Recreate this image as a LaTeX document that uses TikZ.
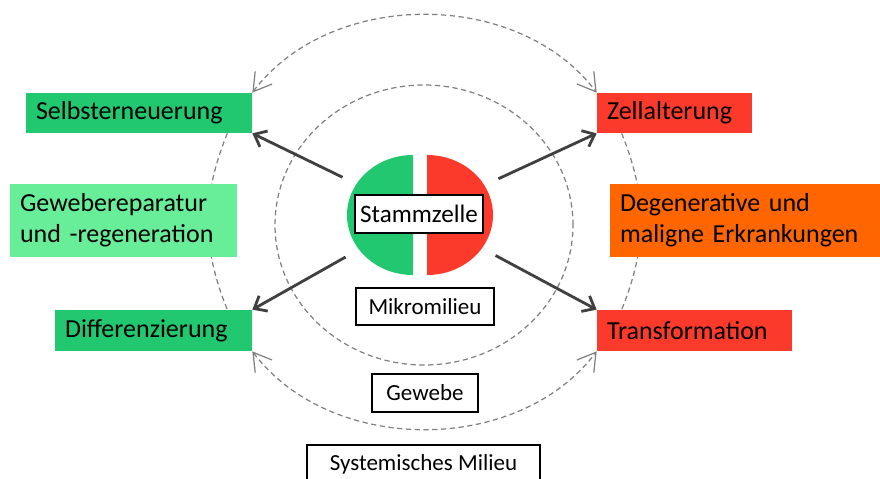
\documentclass[tikz,border=0pt]{standalone}
\usepackage{fontspec}
\setmainfont{Carlito}
\usetikzlibrary{arrows.meta, shapes.geometric, calc, backgrounds}

\definecolor{stemgreen}{RGB}{33,200,112}
\definecolor{lightgreen}{RGB}{104,238,152}
\definecolor{stemred}{RGB}{252,58,44}
\definecolor{diseaseorange}{RGB}{255,102,0}
\definecolor{arrowgray}{RGB}{64,64,64}
\definecolor{ringgray}{RGB}{128,128,128}

\begin{document}
\begin{tikzpicture}[x=0.02cm, y=0.02cm,
    fate/.style={rectangle, inner xsep=0.2cm, inner ysep=0pt, align=left, font=\fontsize{14.8}{17.6}\selectfont},
    milieu/.style={rectangle, draw=black, line width=0.8pt, fill=white, inner sep=0pt, font=\fontsize{13.1}{15.7}\selectfont},
    growth/.style={arrowgray, line width=1.6pt, shorten <=0.32cm, -{Straight Barb[length=6pt, width=10pt]}},
    ring/.style={ringgray, line width=0.7pt, dash pattern=on 3pt off 2pt},
    feedback/.style={ring, {Straight Barb[length=10pt, width=12pt]}-{Straight Barb[length=10pt, width=12pt]}}]
\useasboundingbox (0,0) rectangle (880,-478);

% Mikromilieu ring
\draw[ring] (424,-225) ellipse[x radius=149, y radius=140];

% Stem cell
\node[ellipse, minimum width=2.92cm, minimum height=2.4cm, inner sep=0pt] (cell) at (420,-215) {};
\fill[stemgreen] (413,-155) arc[start angle=90, end angle=270, x radius=66, y radius=60] -- cycle;
\fill[stemred] (427,-155) arc[start angle=90, end angle=-90, x radius=66, y radius=60] -- cycle;
\node[milieu, minimum width=2.56cm, minimum height=0.76cm, font=\fontsize{14.3}{17}\selectfont] (stamm) at (419,-214) {Stammzelle};

% Cell fates
\node[fate, fill=stemgreen, text width=4.12cm, minimum height=0.8cm] (selbst) at (139,-113) {Selbsterneuerung};
\node[fate, fill=lightgreen, text width=4.14cm, minimum height=1.46cm] (repair) at (123.5,-220.5) {Gewebereparatur\\und -regeneration};
\node[fate, fill=stemgreen, text width=3.54cm, minimum height=0.82cm] (diff) at (153.5,-330.5) {Differenzierung};
\node[fate, fill=stemred, text width=2.7cm, minimum height=0.8cm] (zell) at (674.5,-113) {Zellalterung};
\node[fate, fill=diseaseorange, text width=5cm, minimum height=1.46cm] (degen) at (745,-220.5) {Degenerative und\\maligne Erkrankungen};
\node[fate, fill=stemred, text width=3.5cm, minimum height=0.82cm] (trans) at (694.5,-330.5) {Transformation};

% Gewebe ring
\begin{scope}[on background layer]
\draw[ring] ($(selbst.south east)+(-25,0)$) to[bend right=22] ($(diff.north east)+(-25,0)$);
\draw[ring] ($(zell.south west)+(25,0)$) to[bend left=22] ($(trans.north west)+(25,0)$);
\end{scope}
\draw[feedback] (selbst.north east) to[out=53, in=127, looseness=0.97] (zell.north west);
\draw[feedback] (diff.south east) to[out=-53, in=-127, looseness=0.97] (trans.south west);

% Arrows
\draw[growth] (cell) -- (selbst.south east);
\draw[growth] (cell) -- (diff.north east);
\draw[growth] (cell) -- (zell.south west);
\draw[growth] (cell) -- (trans.north west);

% Milieu labels
\node[milieu, minimum width=2.76cm, minimum height=0.74cm] (mikro) at (425,-306.5) {Mikromilieu};
\node[milieu, minimum width=2.12cm, minimum height=0.76cm] (gewebe) at (425,-393) {Gewebe};
\node[milieu, minimum width=4.66cm, minimum height=0.76cm] (system) at (423.5,-464) {Systemisches Milieu};
\end{tikzpicture}
\end{document}
